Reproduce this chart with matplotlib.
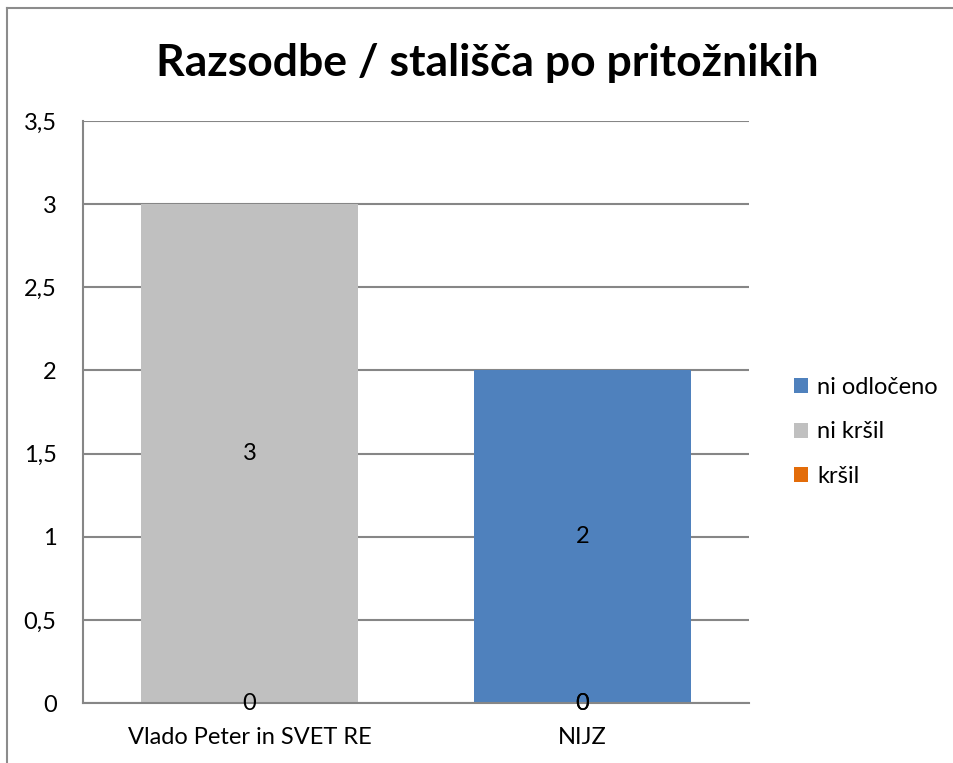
import matplotlib
matplotlib.use("Agg")
import matplotlib.pyplot as plt
from matplotlib.lines import Line2D

categories = ["Vlado Peter in SVET RE", "NIJZ"]
series_names = ["kršil", "ni kršil", "ni odločeno"]
kršil = [0, 0]
ni_kršil = [3, 0]
ni_odločeno = [0, 2]
# which data labels Excel actually shows
show_labels = {
    "kršil": [True, True],
    "ni kršil": [True, True],
    "ni odločeno": [False, True],
}
yticks = [0, 0.5, 1, 1.5, 2, 2.5, 3, 3.5]
ytick_labels = ["0", "0,5", "1", "1,5", "2", "2,5", "3", "3,5"]
title = "Razsodbe / stališča po pritožnikih"

colors = {"kršil": "#E36C09", "ni kršil": "#C0C0C0", "ni odločeno": "#4F81BD"}
grid_color = "#868686"

plt.rcParams['font.family'] = ['Lato', 'DejaVu Sans']

fig = plt.figure(figsize=(9.54, 7.63), dpi=100)
ax = fig.add_axes([0.087, 0.0786, 0.698, 0.763])

# outer chart frame: only left and top edges are inside the picture
fx, fy = 7 / 954, 1 - 8 / 763
fig.add_artist(Line2D([fx, fx], [0, fy], transform=fig.transFigure,
                      color="#8c8c8c", linewidth=1.5))
fig.add_artist(Line2D([fx, 1], [fy, fy], transform=fig.transFigure,
                      color="#8c8c8c", linewidth=1.5))

x = range(len(categories))
bottom = [0, 0]
values = {"kršil": kršil, "ni kršil": ni_kršil, "ni odločeno": ni_odločeno}
handles = {}
for name in series_names:
    vals = values[name]
    bars = ax.bar(x, vals, width=0.65, bottom=bottom, color=colors[name],
                  label=name, zorder=2)
    handles[name] = bars
    for i, b in enumerate(bars):
        if show_labels[name][i]:
            ax.text(b.get_x() + b.get_width() / 2, bottom[i] + vals[i] / 2,
                    str(vals[i]), ha="center", va="center", fontsize=17,
                    color="black", zorder=3)
    bottom = [bottom[i] + vals[i] for i in range(len(vals))]

ax.set_xlim(-0.5, 1.5)
ax.set_ylim(0, 3.5)
ax.set_yticks(yticks)
ax.set_yticklabels(ytick_labels, fontsize=17)
ax.set_xticks(list(x))
ax.set_xticklabels(categories, fontsize=17)
ax.tick_params(axis="both", length=0)
ax.tick_params(axis="y", pad=19)
ax.tick_params(axis="x", pad=17)
ax.yaxis.grid(True, color=grid_color, linewidth=1.5, zorder=1)
ax.set_axisbelow(True)
for s in ["top", "right"]:
    ax.spines[s].set_visible(False)
for s in ["left", "bottom"]:
    ax.spines[s].set_color(grid_color)
    ax.spines[s].set_linewidth(1.5)

fig.text(0.511, 0.918, title, ha="center", va="center", fontsize=32,
         fontweight="bold")

order = ["ni odločeno", "ni kršil", "kršil"]
ax.legend([handles[n] for n in order], order, loc="center left",
          bbox_to_anchor=(0.822, 0.434), bbox_transform=fig.transFigure,
          frameon=False, fontsize=17, handlelength=0.6, handleheight=0.6,
          handletextpad=0.4, labelspacing=1.0, borderaxespad=0)

fig.savefig("out.png", dpi=100)
